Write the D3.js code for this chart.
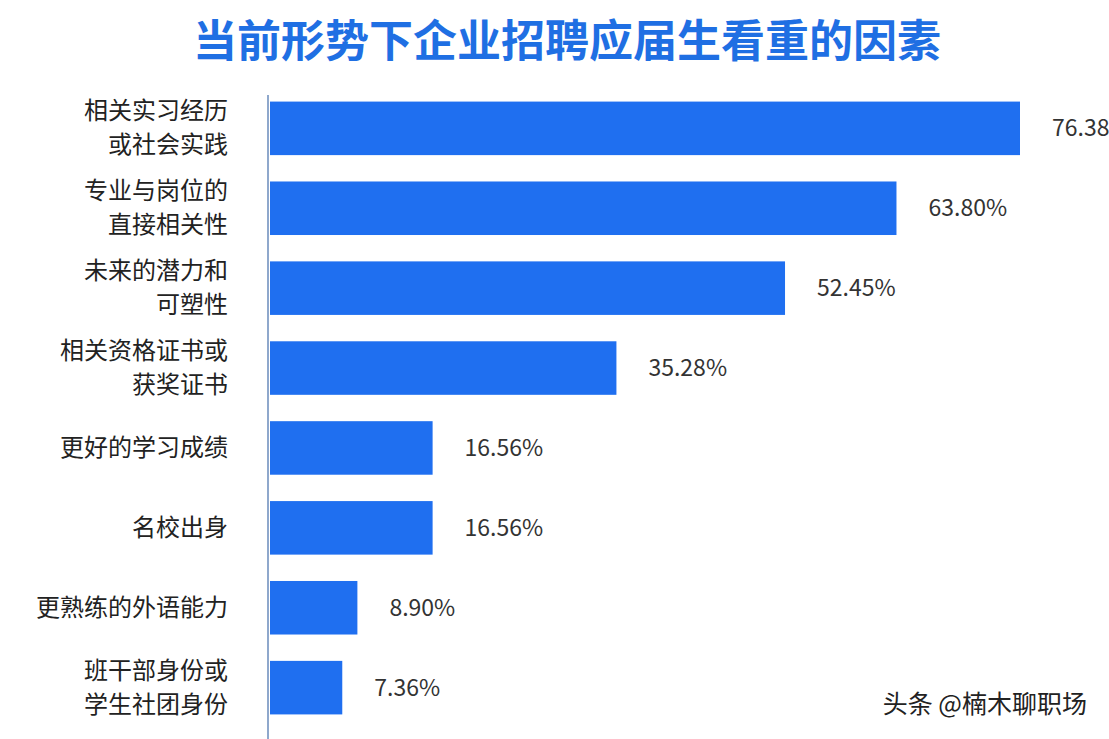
<!DOCTYPE html>
<html><head><meta charset="utf-8">
<script src="https://cdn.jsdelivr.net/npm/d3@7/dist/d3.min.js"></script>
<style>body{margin:0;background:#fff;overflow:hidden}text{font-family:"Noto Sans CJK SC","Noto Sans",sans-serif}</style>
</head><body><svg id="c" width="1109" height="739"></svg>
<script>
const title = "当前形势下企业招聘应届生看重的因素";
const categories = [["相关实习经历","或社会实践"],["专业与岗位的","直接相关性"],["未来的潜力和","可塑性"],["相关资格证书或","获奖证书"],["更好的学习成绩"],["名校出身"],["更熟练的外语能力"],["班干部身份或","学生社团身份"]];
const values = [76.38,63.80,52.45,35.28,16.56,16.56,8.90,7.36];
const svg = d3.select("#c");
svg.append("text").attr("x",567).attr("y",57).attr("text-anchor","middle")
  .attr("font-size",44).attr("font-weight",700).attr("fill","#1f6fe3").text(title);
const x = d3.scaleLinear().domain([0,76.38]).range([270,1020]);
const y = d3.scaleBand().domain(d3.range(8)).range([88,728]).paddingInner(0.33).paddingOuter(0.17);
svg.append("line").attr("x1",268).attr("x2",268).attr("y1",95).attr("y2",739).attr("stroke","#8fa8cc").attr("stroke-width",2);
const g = svg.selectAll(".b").data(values).enter().append("g");
g.append("rect").attr("x",x(0)).attr("y",(d,i)=>y(i)).attr("width",d=>x(d)-x(0)).attr("height",y.bandwidth()).attr("fill","#1f6ff0");
g.append("text").attr("x",d=>x(d)+32).attr("y",(d,i)=>y(i)+y.bandwidth()/2+8)
  .attr("font-size",23).attr("fill","#333").text(d=>d.toFixed(2)+"%");
categories.forEach((c,i)=>{
  const cy = y(i)+y.bandwidth()/2;
  c.forEach((s,j)=>{
    svg.append("text").attr("x",228).attr("text-anchor","end")
      .attr("y",cy+8+(j-(c.length-1)/2)*34).attr("font-size",24).attr("fill","#222").text(s);
  });
});
svg.append("text").attr("x",1087).attr("y",713).attr("text-anchor","end").attr("font-size",25).attr("fill","#222").text("头条 @楠木聊职场");
</script></body></html>
